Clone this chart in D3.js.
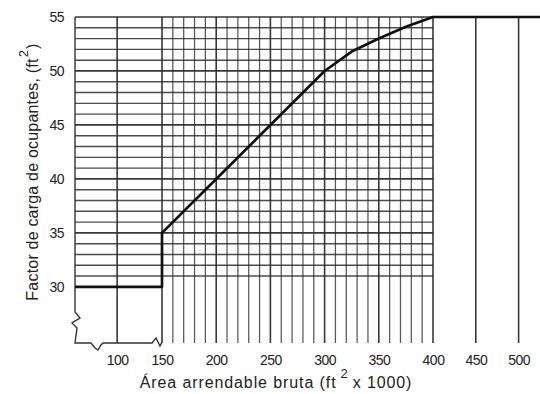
<!DOCTYPE html>
<html><head><meta charset="utf-8">
<script src="https://cdn.jsdelivr.net/npm/d3@7"></script>
<style>
html,body{margin:0;padding:0;background:#fff;}
svg{display:block;}
text{font-family:"Liberation Sans",Arial,sans-serif;fill:#222;}
</style></head>
<body>
<script>
// ---- data ----
const xTickValues = [100, 150, 200, 250, 300, 350, 400, 450, 500];
const yTickValues = [30, 35, 40, 45, 50, 55];
const areaValues   = [53, 150, 150, 200, 250, 300, 325, 350, 375, 400, 525];
const factorValues = [30, 30, 35, 40, 45, 50, 51.8, 53, 54.1, 55, 55];
const xLabel = "Área arrendable bruta (ft";
const xLabelSup = "2";
const xLabelEnd = "x 1000)";
const yLabel = "Factor de carga de ocupantes, (ft";
const yLabelSup = "2";
const yLabelEnd = ")";

const W = 540, H = 394;
const svg = d3.select("body").append("svg").attr("width", W).attr("height", H);

// hand-drawn chart: the 150-400 band is stretched, so piecewise linear scale
const x = d3.scaleLinear().domain([53, 150, 400, 525]).range([75, 162, 433, 540]);
const y = d3.scaleLinear().domain([24.8, 55]).range([343, 17]);

const gridColor = "#2e2e2e";
const g = svg.append("g");

// vertical grid lines
const vGrid = [100].concat(d3.range(150, 401, 10), [450, 500]);
g.selectAll("line.v").data(vGrid).enter().append("line")
  .attr("x1", d => x(d)).attr("x2", d => x(d))
  .attr("y1", y(55)).attr("y2", y.range()[0])
  .attr("stroke", gridColor)
  .attr("stroke-width", d => (d % 50 === 0) ? 1.6 : 1.25)
  .attr("opacity", d => (d % 50 === 0) ? 0.95 : 0.8);

// horizontal grid lines (only up to 400)
const hGrid = d3.range(31, 56, 1);
g.selectAll("line.h").data(hGrid).enter().append("line")
  .attr("x1", x.range()[0]).attr("x2", x(400))
  .attr("y1", d => y(d)).attr("y2", d => y(d))
  .attr("stroke", gridColor)
  .attr("stroke-width", d => (d % 5 === 0) ? 1.7 : 1.4)
  .attr("opacity", d => (d % 5 === 0) ? 0.95 : 0.85);

// frame with break marks
const L = x.range()[0], B = y.range()[0], T = y(55), R = x.range()[1];
const frame = d3.path();
frame.moveTo(L, T); frame.lineTo(L, B - 31);
frame.lineTo(L + 5, B - 25); frame.lineTo(L - 3, B - 20); frame.lineTo(L + 2, B - 15);
frame.lineTo(L, B); frame.lineTo(L + 16, B);
frame.lineTo(L + 20, B + 5); frame.lineTo(L + 23, B + 7); frame.lineTo(L + 26, B + 2); frame.lineTo(L + 28, B);
frame.lineTo(R - 10, B); frame.lineTo(R - 6, B - 5); frame.lineTo(R - 2, B + 3); frame.lineTo(R, B - 1);
svg.append("path").attr("d", frame.toString()).attr("fill", "none")
  .attr("stroke", "#333").attr("stroke-width", 1.4);

// data line
const line = d3.line().x((d, i) => x(areaValues[i])).y((d, i) => y(factorValues[i]));
svg.append("path").datum(areaValues).attr("d", line)
  .attr("fill", "none").attr("stroke", "#111").attr("stroke-width", 2.7)
  .attr("stroke-linejoin", "round");

// axes (labels only)
const xAxis = d3.axisBottom(x).tickValues(xTickValues).tickSize(0).tickPadding(0);
const xa = svg.append("g").attr("transform", `translate(0,${B + 12})`).call(xAxis);
xa.select(".domain").remove();
xa.selectAll("text").attr("font-size", 14).attr("dy", "0.71em").attr("letter-spacing", "-0.5")
  .attr("font-family", "Liberation Sans, Arial, sans-serif").attr("fill", "#222");

const yAxis = d3.axisLeft(y).tickValues(yTickValues).tickSize(0).tickPadding(0);
const ya = svg.append("g").attr("transform", `translate(${L - 11},0)`).call(yAxis);
ya.select(".domain").remove();
ya.selectAll("text").attr("font-size", 14).attr("letter-spacing", "-0.5")
  .attr("font-family", "Liberation Sans, Arial, sans-serif").attr("fill", "#222");

// x title
const xt = svg.append("text").attr("x", 276).attr("y", 388).attr("text-anchor", "middle")
  .attr("font-size", 16).attr("letter-spacing", "0.9");
xt.append("tspan").text(xLabel);
xt.append("tspan").attr("dy", -10).attr("dx", 4).attr("font-size", 13).text(xLabelSup);
xt.append("tspan").attr("dy", 10).attr("dx", 4).text(xLabelEnd);

// y title
const yt = svg.append("text").attr("transform", `translate(38,172) rotate(-90)`)
  .attr("text-anchor", "middle").attr("font-size", 16).attr("letter-spacing", "0.2");
yt.append("tspan").text(yLabel);
yt.append("tspan").attr("dy", -10).attr("dx", 1).attr("font-size", 13).text(yLabelSup);
yt.append("tspan").attr("dy", 10).attr("dx", 1).text(yLabelEnd);
</script>
</body></html>
